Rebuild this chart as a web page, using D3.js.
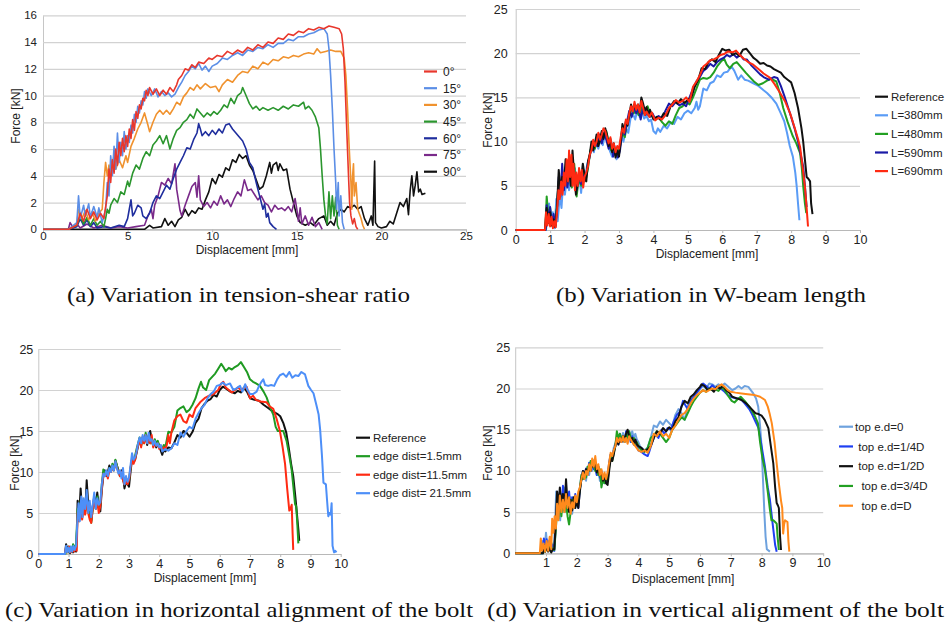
<!DOCTYPE html>
<html><head><meta charset="utf-8">
<script src="https://cdn.jsdelivr.net/npm/d3@7"></script>
<style>body{margin:0;background:#fff}</style>
</head><body>
<svg id="chart" width="949" height="628"></svg>
<script>
// ---------- DATA: [displacement mm, force kN] ----------
// (a) tension-shear ratio
const aLabels = ["0°","15°","30°","45°","60°","75°","90°"];
const a0 = [[0,0],[1.5,0],[2.0,0.3],[2.2,1.2],[2.4,0.6],[2.6,1.5],[2.8,0.8],[3.0,1.3],[3.2,0.7],[3.4,1.2],[3.6,0.8],[3.8,2.5],[3.9,4.5],[4.0,3.5],[4.1,5.2],[4.2,4.2],[4.3,6.0],[4.4,4.8],[4.5,6.5],[4.6,5.5],[4.7,6.8],[4.8,5.8],[4.9,7.0],[5.0,6.2],[5.1,7.5],[5.2,6.8],[5.3,8.2],[5.4,7.4],[5.5,8.8],[5.6,8.3],[5.7,9.3],[5.8,9.0],[5.9,9.8],[6.0,9.6],[6.1,10.4],[6.2,10.0],[6.3,10.6],[6.5,10.1],[6.7,10.5],[6.9,10.0],[7.1,10.4],[7.3,10.1],[7.5,10.6],[7.7,10.3],[7.9,10.8],[8.0,11.2],[8.2,11.5],[8.4,12.0],[8.6,11.9],[8.8,12.3],[9.0,12.1],[9.2,12.5],[9.5,12.4],[9.8,12.8],[10.0,12.7],[10.3,13.0],[10.6,12.9],[10.9,13.3],[11.2,13.1],[11.5,13.4],[11.8,13.2],[12.1,13.6],[12.4,13.4],[12.7,13.8],[13.0,13.6],[13.3,14.0],[13.6,13.9],[13.9,14.3],[14.2,14.2],[14.5,14.6],[14.8,14.5],[15.1,14.8],[15.4,14.7],[15.7,15.0],[16.0,14.9],[16.3,15.1],[16.6,15.0],[16.9,15.2],[17.2,15.1],[17.5,15.0],[17.65,14.6],[17.75,13.5],[17.85,11],[17.95,7.5],[18.05,4.2],[18.12,2.0],[18.2,1.0],[18.3,0.4],[18.4,0.8],[18.5,0.2],[18.6,0]];
const a15 = [[0,0],[1.5,0],[2.0,0.5],[2.1,2.5],[2.2,0.8],[2.4,1.8],[2.5,1.0],[2.7,1.9],[2.8,0.9],[3.0,1.7],[3.2,0.9],[3.3,1.6],[3.5,0.5],[3.7,1.5],[3.8,3.5],[3.9,2.5],[4.0,5.5],[4.1,4.0],[4.2,6.2],[4.3,4.5],[4.4,7.2],[4.5,5.0],[4.6,6.5],[4.7,5.5],[4.8,7.3],[4.9,6.0],[5.0,7.0],[5.1,6.5],[5.2,7.8],[5.3,7.2],[5.4,8.6],[5.5,8.0],[5.6,9.2],[5.7,8.7],[5.8,9.6],[5.9,9.3],[6.0,10.3],[6.1,9.8],[6.2,10.5],[6.4,10.0],[6.6,10.5],[6.8,9.9],[7.0,10.3],[7.2,10.0],[7.4,10.2],[7.6,9.9],[7.8,10.1],[8.0,10.6],[8.2,11.0],[8.4,11.5],[8.6,11.8],[8.8,12.2],[9.0,12.0],[9.2,12.4],[9.4,11.9],[9.6,12.2],[9.8,11.8],[10.0,12.2],[10.3,12.4],[10.6,12.8],[10.9,12.7],[11.2,13.0],[11.5,13.2],[11.8,13.0],[12.1,13.4],[12.4,13.3],[12.7,13.6],[13.0,13.5],[13.3,13.8],[13.6,13.6],[13.9,13.9],[14.2,13.9],[14.5,14.2],[14.8,14.1],[15.1,14.4],[15.4,14.4],[15.7,14.6],[16.0,14.7],[16.3,14.9],[16.6,15.0],[16.8,14.6],[16.9,13.5],[17.0,11.5],[17.1,9],[17.2,6],[17.3,3.5],[17.35,1.5],[17.45,3.5],[17.5,1.0],[17.6,2.5],[17.7,0.5],[17.8,0]];
const a30 = [[0,0],[1.5,0],[2.0,0.4],[2.1,1.5],[2.3,0.8],[2.5,1.4],[2.7,0.7],[2.9,1.3],[3.1,0.6],[3.3,1.2],[3.5,1.5],[3.6,3.5],[3.7,5.0],[3.8,4.0],[3.9,4.8],[4.0,4.2],[4.2,5.5],[4.3,4.5],[4.5,5.2],[4.7,4.6],[4.9,5.5],[5.0,5.0],[5.2,6.2],[5.4,6.8],[5.6,7.5],[5.8,8.0],[6.0,8.7],[6.2,7.8],[6.3,7.3],[6.5,8.0],[6.7,8.6],[6.9,8.9],[7.1,8.6],[7.3,8.9],[7.5,8.6],[7.7,9.0],[7.9,9.5],[8.1,9.3],[8.3,9.9],[8.5,10.2],[8.7,10.6],[8.9,10.4],[9.1,10.8],[9.3,10.5],[9.6,10.9],[9.9,10.6],[10.2,10.7],[10.4,10.3],[10.6,10.8],[10.9,11.2],[11.2,11.0],[11.5,11.5],[11.8,11.8],[12.1,11.7],[12.4,12.2],[12.7,12.0],[13.0,12.5],[13.3,12.3],[13.6,12.7],[13.9,12.6],[14.2,12.9],[14.5,12.8],[14.8,13.0],[15.1,12.9],[15.4,13.1],[15.7,13.2],[16.0,13.1],[16.2,13.5],[16.4,13.2],[16.7,13.3],[17.0,13.4],[17.3,13.3],[17.6,13.3],[17.8,12.8],[17.9,11.5],[18.0,9.0],[18.1,6.0],[18.2,3.5],[18.25,1.5],[18.3,4.0],[18.35,4.9],[18.4,2.5],[18.5,3.5],[18.6,1.5],[18.8,0.8],[18.9,0.3],[19.0,0]];
const a45 = [[0,0],[1.5,0],[2.0,0.3],[2.2,1.0],[2.4,0.4],[2.6,0.9],[2.8,0.3],[3.0,0.8],[3.2,0.3],[3.4,0.6],[3.6,0.2],[3.7,0.8],[3.8,1.5],[3.9,1.2],[4.0,1.8],[4.2,2.3],[4.4,2.0],[4.6,2.8],[4.8,2.6],[5.0,3.6],[5.1,3.2],[5.3,4.2],[5.5,4.8],[5.7,4.5],[5.9,5.3],[6.1,5.8],[6.3,5.5],[6.5,6.3],[6.7,6.6],[6.9,7.0],[7.1,6.4],[7.3,7.0],[7.5,6.0],[7.7,6.8],[7.9,7.4],[8.1,7.6],[8.3,8.0],[8.5,8.2],[8.7,8.6],[8.9,8.3],[9.1,9.0],[9.3,8.7],[9.5,8.4],[9.7,8.7],[9.9,8.5],[10.1,8.8],[10.3,8.6],[10.5,8.9],[10.7,9.3],[10.9,9.1],[11.1,9.8],[11.3,9.4],[11.5,10.0],[11.7,10.2],[11.8,10.6],[12.0,10.0],[12.2,9.4],[12.4,9.0],[12.6,9.2],[12.8,8.9],[13.0,9.1],[13.3,8.9],[13.6,9.1],[13.9,8.9],[14.2,9.2],[14.5,9.0],[14.8,9.3],[15.1,9.2],[15.4,9.5],[15.5,9.0],[15.7,9.2],[15.9,8.9],[16.1,8.4],[16.3,7.6],[16.4,6.0],[16.5,4.0],[16.6,2.2],[16.7,1.0],[16.8,0.4],[16.9,2.8],[17.0,0.8],[17.1,2.5],[17.2,1.0],[17.3,2.4],[17.4,0.3],[17.5,0]];
const a60 = [[0,0],[1.5,0],[2.0,0.2],[2.2,0.8],[2.4,0.3],[2.6,0.7],[2.8,0.2],[3.0,0.5],[3.2,0.1],[3.6,0.2],[4.0,0.1],[4.5,0.3],[4.8,0.2],[5.0,0.8],[5.1,1.5],[5.2,2.2],[5.3,1.0],[5.4,1.2],[5.5,1.5],[5.6,1.8],[5.8,1.6],[5.9,1.0],[6.1,0.8],[6.3,1.2],[6.5,2.0],[6.7,2.5],[6.9,2.3],[7.1,2.8],[7.3,3.3],[7.5,3.0],[7.7,3.8],[7.9,4.5],[8.1,5.0],[8.3,5.5],[8.5,6.1],[8.7,6.0],[8.9,6.7],[9.1,7.2],[9.2,7.9],[9.3,7.5],[9.4,7.0],[9.6,7.3],[9.8,7.0],[10.0,7.4],[10.2,7.1],[10.4,7.5],[10.6,7.2],[10.8,7.8],[11.0,7.9],[11.2,7.5],[11.4,7.2],[11.6,6.9],[11.8,6.6],[12.0,6.0],[12.2,5.0],[12.4,4.6],[12.6,3.5],[12.8,2.5],[12.9,2.0],[13.0,1.5],[13.1,1.9],[13.2,0.9],[13.3,1.2],[13.4,0.5],[13.6,0.2],[13.8,0]];
const a75 = [[0,0],[1.5,0],[1.6,0.5],[1.8,0.1],[2.0,0.4],[2.2,0.1],[2.6,0.4],[3.0,0.1],[3.5,0.3],[4.0,0.1],[4.5,0.2],[5.0,0.1],[5.5,0.2],[6.0,0.3],[6.2,1.0],[6.4,1.5],[6.5,0.8],[6.6,1.8],[6.8,2.5],[7.0,3.5],[7.2,3.3],[7.4,3.8],[7.6,3.4],[7.8,4.9],[7.9,3.0],[8.0,2.2],[8.1,1.4],[8.2,1.0],[8.4,1.8],[8.6,2.5],[8.8,3.2],[9.0,3.5],[9.1,2.4],[9.2,4.0],[9.3,2.2],[9.5,1.7],[9.7,2.0],[9.9,1.6],[10.1,2.1],[10.3,1.8],[10.5,2.5],[10.7,1.9],[10.9,2.2],[11.1,1.7],[11.3,2.3],[11.5,2.8],[11.7,2.5],[11.9,3.7],[12.1,2.9],[12.3,3.0],[12.5,2.6],[12.7,2.2],[12.9,2.5],[13.1,2.0],[13.3,1.8],[13.5,1.3],[13.7,1.8],[13.9,1.5],[14.1,1.6],[14.3,1.4],[14.5,1.7],[14.7,1.3],[14.9,2.3],[15.0,1.5],[15.1,0.6],[15.2,1.6],[15.3,0.4],[15.5,1.0],[15.7,0.3],[15.9,0.9],[16.1,0.2],[16.3,0.5],[16.5,0]];
const a90 = [[0,0],[6.0,0],[6.3,0.3],[6.5,0.1],[7.0,0.2],[7.2,0.8],[7.4,0.3],[7.6,0.6],[7.8,0.2],[8.0,0.7],[8.2,0.9],[8.4,1.5],[8.6,1.0],[8.8,1.4],[9.0,1.2],[9.2,1.6],[9.4,1.5],[9.6,2.2],[9.8,2.8],[10.0,3.8],[10.2,3.4],[10.4,4.1],[10.6,3.9],[10.8,4.6],[11.0,4.4],[11.2,5.2],[11.4,5.0],[11.6,5.6],[11.8,5.3],[12.0,5.5],[12.2,4.8],[12.4,4.4],[12.6,3.7],[12.8,3.0],[13.0,3.2],[13.2,4.0],[13.4,5.0],[13.5,4.2],[13.6,4.8],[13.8,5.0],[13.9,4.4],[14.0,4.9],[14.2,4.4],[14.4,4.5],[14.6,3.0],[14.8,2.0],[15.0,1.0],[15.2,0.5],[15.5,0.3],[15.8,0.5],[16.0,0.3],[16.3,0.8],[16.6,1.0],[16.8,0.3],[17.0,0.6],[17.2,0.3],[17.4,1.2],[17.6,1.5],[17.8,1.3],[18.0,1.7],[18.2,1.6],[18.4,1.8],[18.6,1.5],[18.8,1.7],[19.0,0.8],[19.2,0.3],[19.4,1.0],[19.5,0.3],[19.6,5.1],[19.65,0.5],[19.8,0.2],[20.0,0.1],[20.3,0.2],[20.5,0.6],[20.7,0.4],[20.9,1.2],[21.1,2.0],[21.3,1.7],[21.5,2.3],[21.6,1.1],[21.7,2.9],[21.8,4.0],[21.9,2.5],[22.0,3.3],[22.1,4.3],[22.2,2.8],[22.3,3.0],[22.4,2.6],[22.6,2.7]];

// (b) W-beam length
const bLabels = ["Reference","L=380mm","L=480mm","L=590mm","L=690mm"];
const bRef = [[0,0],[0.85,0],[0.9,2.5],[0.95,0.8],[1.0,2.0],[1.05,0.5],[1.1,1.2],[1.15,0.3],[1.2,2.5],[1.25,6.8],[1.3,4.5],[1.35,6.0],[1.4,5.2],[1.45,8.0],[1.5,5.5],[1.55,7.0],[1.6,5.0],[1.65,9.0],[1.7,6.0],[1.75,4.0],[1.8,5.5],[1.85,6.5],[1.9,5.8],[1.95,7.5],[2.0,6.2],[2.05,5.5],[2.1,7.8],[2.15,8.5],[2.2,10.0],[2.25,9.0],[2.3,9.8],[2.35,10.8],[2.4,9.5],[2.45,10.2],[2.5,11.2],[2.55,10.3],[2.6,11.5],[2.65,10.8],[2.7,9.5],[2.75,10.3],[2.8,8.8],[2.85,9.8],[2.9,8.2],[2.95,9.0],[3.0,8.3],[3.05,10.0],[3.1,12.0],[3.15,11.3],[3.2,12.3],[3.25,11.8],[3.3,13.0],[3.35,14.2],[3.4,13.5],[3.45,14.0],[3.5,13.8],[3.55,14.2],[3.6,13.3],[3.65,15.0],[3.7,14.3],[3.75,13.5],[3.8,13.9],[3.85,13.0],[3.9,13.6],[4.0,12.5],[4.1,12.8],[4.2,12.5],[4.3,13.2],[4.4,12.9],[4.5,14.0],[4.6,14.6],[4.7,14.3],[4.8,14.8],[4.9,14.4],[5.0,14.7],[5.1,15.0],[5.2,16.2],[5.3,17.0],[5.4,18.3],[5.5,18.2],[5.6,19.0],[5.7,19.3],[5.8,19.0],[5.9,19.8],[6.0,20.5],[6.1,20.3],[6.2,20.4],[6.3,19.8],[6.4,20.0],[6.5,19.7],[6.6,20.4],[6.7,20.5],[6.8,20.0],[6.9,19.5],[7.0,19.2],[7.1,18.8],[7.2,18.9],[7.3,18.6],[7.4,18.5],[7.5,18.2],[7.6,18.0],[7.7,17.8],[7.8,17.3],[7.9,17.0],[8.0,16.7],[8.1,15.5],[8.2,13.8],[8.3,11.5],[8.35,10.0],[8.4,8.0],[8.45,6.0],[8.5,5.8],[8.55,5.5],[8.58,3.0],[8.62,1.8]];
const b380 = [[0,0],[0.88,0],[0.92,1.5],[0.97,3.0],[1.02,0.5],[1.08,2.0],[1.13,0.2],[1.18,3.5],[1.22,1.0],[1.28,4.0],[1.33,2.5],[1.38,5.5],[1.43,4.0],[1.5,6.5],[1.55,4.5],[1.6,6.2],[1.65,5.0],[1.72,7.0],[1.78,4.5],[1.85,6.0],[1.9,4.2],[1.95,6.5],[2.0,5.5],[2.08,7.5],[2.15,8.2],[2.2,9.5],[2.27,8.8],[2.33,10.0],[2.4,9.2],[2.47,10.5],[2.53,9.6],[2.6,11.0],[2.67,10.0],[2.73,9.0],[2.8,8.3],[2.87,9.5],[2.93,8.0],[3.0,8.8],[3.07,10.5],[3.13,10.0],[3.2,11.5],[3.27,11.0],[3.33,12.5],[3.4,13.2],[3.47,12.5],[3.53,13.5],[3.6,12.8],[3.67,13.8],[3.73,12.6],[3.8,12.9],[3.87,12.3],[3.93,12.5],[4.0,11.2],[4.07,10.9],[4.13,11.5],[4.2,11.1],[4.3,11.8],[4.4,11.5],[4.5,12.2],[4.6,12.0],[4.7,12.8],[4.8,12.5],[4.9,13.2],[5.0,13.5],[5.1,13.2],[5.2,13.8],[5.25,14.5],[5.3,13.6],[5.35,14.0],[5.45,16.0],[5.55,15.8],[5.65,16.6],[5.75,16.8],[5.85,17.5],[5.95,17.3],[6.05,17.8],[6.15,17.9],[6.27,18.5],[6.35,18.0],[6.46,17.0],[6.55,17.5],[6.65,17.0],[6.75,16.9],[6.9,16.6],[7.05,16.3],[7.2,15.8],[7.3,15.5],[7.45,14.9],[7.57,14.3],[7.7,13.2],[7.8,12.3],[7.88,11.0],[7.96,9.5],[8.05,8.3],[8.12,6.5],[8.16,5.0],[8.2,3.0],[8.24,1.1]];
const b480 = [[0,0],[0.86,0],[0.9,3.8],[0.95,1.5],[1.0,2.5],[1.05,0.8],[1.1,1.5],[1.15,0.5],[1.2,3.0],[1.25,5.5],[1.3,4.2],[1.35,6.5],[1.4,4.8],[1.45,7.0],[1.5,5.2],[1.57,6.5],[1.63,4.8],[1.7,7.5],[1.77,3.8],[1.83,5.8],[1.9,5.0],[1.97,6.8],[2.03,5.6],[2.1,7.0],[2.17,9.0],[2.23,9.8],[2.3,9.2],[2.37,10.2],[2.43,9.8],[2.5,11.0],[2.57,10.5],[2.63,11.2],[2.7,10.0],[2.77,9.0],[2.83,9.5],[2.9,8.5],[2.97,9.0],[3.03,9.5],[3.1,11.0],[3.17,10.5],[3.23,12.0],[3.3,12.8],[3.37,13.8],[3.43,13.2],[3.5,13.8],[3.57,13.0],[3.63,14.0],[3.7,13.2],[3.77,13.5],[3.83,14.0],[3.9,13.2],[3.97,12.8],[4.05,12.5],[4.15,12.8],[4.25,12.2],[4.35,11.8],[4.45,12.3],[4.55,12.0],[4.65,13.0],[4.75,13.8],[4.85,14.0],[4.95,14.5],[5.05,14.2],[5.15,15.0],[5.25,16.0],[5.35,17.0],[5.45,17.2],[5.55,17.1],[5.65,17.3],[5.75,17.8],[5.85,18.5],[5.95,19.0],[6.05,19.4],[6.13,18.7],[6.22,18.3],[6.32,18.8],[6.42,19.0],[6.55,18.4],[6.68,17.8],[6.8,17.3],[6.92,16.8],[7.05,16.4],[7.18,16.6],[7.3,16.9],[7.42,17.1],[7.57,16.8],[7.67,15.5],[7.77,13.8],[7.9,12.2],[8.05,10.6],[8.15,9.8],[8.26,8.7],[8.31,7.0],[8.35,5.0],[8.4,3.0],[8.44,1.9]];
const b590 = [[0,0],[0.87,0],[0.9,2.8],[0.95,1.2],[1.0,2.6],[1.05,0.6],[1.1,1.8],[1.15,0.4],[1.2,2.5],[1.25,6.0],[1.3,3.8],[1.35,7.5],[1.4,4.5],[1.45,6.2],[1.5,4.8],[1.57,7.2],[1.63,5.5],[1.7,6.5],[1.77,4.5],[1.83,6.0],[1.9,5.2],[1.97,6.2],[2.03,5.8],[2.1,7.5],[2.17,8.8],[2.23,9.5],[2.3,10.0],[2.37,9.5],[2.43,10.8],[2.5,9.8],[2.57,11.0],[2.63,10.2],[2.7,9.2],[2.77,10.0],[2.83,8.3],[2.9,9.0],[2.97,8.2],[3.03,9.0],[3.1,11.5],[3.17,10.8],[3.23,12.2],[3.3,13.5],[3.37,12.8],[3.43,14.0],[3.5,13.2],[3.57,13.8],[3.63,12.5],[3.7,13.8],[3.77,13.0],[3.83,13.5],[3.9,12.8],[3.97,13.2],[4.05,12.6],[4.15,12.9],[4.25,12.6],[4.35,13.5],[4.45,14.3],[4.55,14.0],[4.65,14.5],[4.75,14.1],[4.85,14.3],[4.95,14.0],[5.05,15.0],[5.15,16.0],[5.25,16.8],[5.35,17.3],[5.45,18.0],[5.55,18.3],[5.65,18.8],[5.75,18.5],[5.85,19.0],[5.95,19.3],[6.05,19.5],[6.13,19.8],[6.22,19.6],[6.32,19.9],[6.42,19.5],[6.52,19.8],[6.62,19.3],[6.71,19.3],[6.85,18.6],[7.0,18.0],[7.1,17.6],[7.2,17.3],[7.35,17.0],[7.5,17.3],[7.6,17.2],[7.7,16.3],[7.8,15.2],[7.9,14.0],[8.0,12.8],[8.1,11.5],[8.2,10.0],[8.28,8.5],[8.35,7.2],[8.4,5.0],[8.45,2.6]];
const b690 = [[0,0],[0.85,0],[0.88,2.0],[0.92,0.5],[0.96,1.8],[1.0,0.4],[1.04,1.5],[1.08,0.2],[1.12,1.0],[1.16,0.3],[1.2,2.0],[1.24,4.5],[1.28,3.5],[1.32,5.5],[1.36,4.0],[1.4,6.5],[1.44,5.0],[1.48,8.0],[1.52,5.5],[1.55,9.0],[1.58,6.0],[1.62,8.5],[1.65,5.0],[1.68,7.5],[1.72,4.5],[1.76,6.5],[1.8,5.0],[1.84,7.0],[1.88,5.5],[1.92,6.8],[1.96,4.8],[2.0,6.0],[2.05,6.5],[2.1,7.2],[2.15,8.5],[2.2,9.0],[2.25,10.2],[2.3,9.5],[2.35,10.0],[2.4,11.0],[2.45,10.2],[2.5,10.8],[2.55,11.5],[2.6,11.2],[2.65,10.5],[2.7,9.8],[2.75,10.5],[2.8,9.2],[2.85,9.8],[2.9,8.8],[2.95,9.5],[3.0,9.2],[3.05,10.5],[3.1,11.5],[3.15,11.0],[3.2,12.5],[3.25,12.0],[3.3,13.2],[3.35,14.0],[3.4,13.4],[3.45,14.5],[3.5,13.6],[3.55,14.2],[3.6,13.3],[3.65,14.6],[3.7,13.8],[3.75,13.0],[3.8,13.4],[3.88,12.8],[3.95,13.3],[4.05,12.4],[4.15,12.7],[4.25,12.5],[4.35,13.0],[4.45,13.8],[4.55,14.2],[4.65,14.7],[4.75,14.4],[4.85,14.6],[4.95,15.0],[5.05,14.5],[5.15,16.2],[5.25,16.8],[5.35,17.5],[5.45,18.5],[5.55,18.8],[5.65,19.2],[5.75,19.3],[5.85,19.5],[5.95,19.8],[6.05,19.9],[6.17,20.2],[6.3,20.1],[6.4,20.3],[6.51,19.8],[6.62,19.4],[6.75,19.0],[6.9,18.7],[7.05,18.2],[7.2,17.7],[7.39,17.2],[7.52,16.5],[7.68,15.5],[7.83,14.5],[7.97,13.2],[8.1,11.6],[8.2,10.3],[8.26,9.4],[8.33,7.2],[8.4,4.9],[8.45,2.5],[8.49,0.4]];

// (c) horizontal alignment
const cLabels = ["Reference","edge dist=1.5mm","edge dist=11.5mm","edge dist= 21.5mm"];
const cRef = [[0,0],[0.88,0],[0.92,1.2],[0.96,0.3],[1.0,0.9],[1.05,0.1],[1.1,0.6],[1.15,0.2],[1.2,0.4],[1.25,0.3],[1.28,3.0],[1.3,6.5],[1.35,4.5],[1.4,8.0],[1.45,5.0],[1.5,6.5],[1.55,5.0],[1.6,9.0],[1.65,6.2],[1.7,5.5],[1.75,4.0],[1.8,5.8],[1.85,7.0],[1.9,6.0],[1.95,7.5],[2.0,5.8],[2.05,5.2],[2.1,7.8],[2.15,9.5],[2.2,10.2],[2.25,9.5],[2.3,10.0],[2.35,10.8],[2.4,10.2],[2.45,10.5],[2.5,10.2],[2.55,11.4],[2.6,10.8],[2.65,10.2],[2.7,9.8],[2.75,10.2],[2.8,9.5],[2.85,8.0],[2.9,8.8],[2.95,8.5],[3.0,8.2],[3.05,10.0],[3.1,11.6],[3.15,11.2],[3.2,11.5],[3.25,12.3],[3.3,13.2],[3.35,14.0],[3.4,13.5],[3.45,14.2],[3.5,13.8],[3.55,14.5],[3.6,13.3],[3.65,14.2],[3.7,15.0],[3.75,14.0],[3.8,13.2],[3.85,13.6],[3.9,13.0],[3.95,13.5],[4.0,13.3],[4.05,12.6],[4.1,12.1],[4.15,12.8],[4.2,12.5],[4.3,13.0],[4.4,12.9],[4.5,13.6],[4.6,14.5],[4.7,14.2],[4.8,15.0],[4.9,14.8],[5.0,14.3],[5.1,14.9],[5.2,16.0],[5.3,16.5],[5.4,17.8],[5.5,18.3],[5.6,18.7],[5.7,18.9],[5.8,19.4],[5.9,19.2],[6.0,20.0],[6.1,20.4],[6.2,20.2],[6.35,19.8],[6.5,19.6],[6.6,19.9],[6.7,19.7],[6.8,20.3],[6.9,19.8],[7.0,19.0],[7.15,18.8],[7.3,18.7],[7.45,18.2],[7.6,17.8],[7.75,17.4],[7.9,17.1],[8.0,16.8],[8.1,16.0],[8.2,14.8],[8.28,13.0],[8.36,11.0],[8.43,9.5],[8.5,7.0],[8.55,5.0],[8.6,3.0],[8.63,1.6]];
const c15 = [[0,0],[0.9,0],[0.95,0.8],[1.0,0.2],[1.05,0.9],[1.1,0.3],[1.15,1.2],[1.2,0.6],[1.25,1.2],[1.3,5.5],[1.35,4.0],[1.4,6.5],[1.45,4.5],[1.5,6.0],[1.55,5.2],[1.6,7.0],[1.65,5.5],[1.7,4.5],[1.75,3.8],[1.8,5.5],[1.85,6.5],[1.9,5.5],[1.95,7.0],[2.0,5.5],[2.05,6.0],[2.1,8.5],[2.15,10.3],[2.2,9.8],[2.25,10.0],[2.3,9.5],[2.35,10.5],[2.4,10.0],[2.45,11.0],[2.5,10.5],[2.55,11.5],[2.6,10.8],[2.65,10.0],[2.7,9.5],[2.75,10.0],[2.8,9.2],[2.85,8.5],[2.9,9.2],[2.95,8.8],[3.0,9.0],[3.05,10.5],[3.1,11.5],[3.15,11.2],[3.2,12.0],[3.25,12.8],[3.3,13.5],[3.35,14.2],[3.4,13.2],[3.45,14.0],[3.5,13.5],[3.55,14.8],[3.6,13.8],[3.65,14.5],[3.7,13.5],[3.75,14.0],[3.8,13.2],[3.85,14.0],[3.9,13.5],[3.95,13.8],[4.0,13.2],[4.05,13.0],[4.1,12.8],[4.15,13.3],[4.2,13.0],[4.3,14.9],[4.4,14.8],[4.5,15.5],[4.6,17.5],[4.7,17.8],[4.8,18.0],[4.9,17.3],[5.0,17.6],[5.1,18.2],[5.2,19.0],[5.3,20.2],[5.38,21.0],[5.45,20.3],[5.55,20.0],[5.65,21.2],[5.75,21.6],[5.85,22.0],[5.95,22.6],[6.05,23.2],[6.12,22.8],[6.2,22.3],[6.3,22.7],[6.4,22.5],[6.5,22.8],[6.6,23.0],[6.7,23.4],[6.8,22.8],[6.9,22.2],[7.0,21.3],[7.1,21.0],[7.2,20.8],[7.33,20.5],[7.45,19.8],[7.55,19.1],[7.65,18.0],[7.77,17.0],[7.85,15.5],[7.92,15.0],[8.0,15.0],[8.1,15.0],[8.21,13.8],[8.3,12.0],[8.38,10.2],[8.44,8.0],[8.49,6.1],[8.53,5.8],[8.56,4.0],[8.6,1.3]];
const c115 = [[0,0],[0.88,0],[0.92,0.8],[0.97,0.2],[1.02,0.9],[1.07,0.2],[1.12,0.7],[1.17,0.3],[1.22,0.5],[1.27,0.4],[1.3,5.0],[1.35,4.0],[1.4,6.0],[1.45,4.2],[1.5,5.5],[1.55,4.8],[1.6,6.8],[1.65,5.0],[1.7,4.2],[1.75,3.8],[1.8,5.5],[1.85,6.5],[1.9,5.5],[1.95,6.5],[2.0,5.0],[2.05,5.8],[2.1,8.0],[2.15,9.8],[2.2,9.5],[2.25,10.0],[2.3,9.2],[2.35,10.2],[2.4,10.0],[2.45,10.5],[2.5,10.3],[2.55,11.2],[2.6,10.5],[2.65,10.0],[2.7,9.5],[2.75,10.0],[2.8,9.0],[2.85,8.5],[2.9,9.0],[2.95,8.5],[3.0,9.0],[3.05,10.5],[3.1,11.5],[3.15,11.0],[3.2,11.5],[3.25,12.5],[3.3,13.3],[3.35,14.0],[3.4,13.0],[3.45,14.3],[3.5,13.5],[3.55,14.5],[3.6,13.5],[3.65,14.3],[3.7,13.5],[3.75,14.5],[3.8,13.0],[3.85,13.5],[3.9,13.2],[3.95,13.5],[4.0,12.8],[4.05,13.2],[4.1,12.6],[4.15,13.0],[4.2,12.8],[4.25,13.3],[4.3,14.5],[4.35,13.5],[4.4,14.8],[4.5,16.3],[4.6,16.8],[4.7,17.0],[4.8,16.2],[4.9,16.0],[5.0,17.0],[5.1,16.7],[5.2,17.8],[5.35,18.5],[5.5,19.0],[5.65,19.3],[5.8,19.5],[5.95,20.0],[6.05,20.8],[6.12,21.0],[6.2,20.3],[6.3,20.0],[6.4,19.7],[6.5,20.0],[6.6,20.3],[6.7,20.0],[6.8,20.2],[6.89,20.4],[7.0,19.0],[7.1,19.3],[7.2,18.8],[7.35,18.6],[7.55,18.5],[7.65,18.0],[7.77,17.7],[7.88,16.5],[7.99,15.0],[8.08,13.0],[8.16,11.0],[8.23,8.0],[8.3,5.3],[8.34,5.5],[8.38,6.0],[8.41,2.5],[8.43,0.5]];
const c215 = [[0,0],[0.88,0],[0.92,1.0],[0.96,0.2],[1.0,0.8],[1.04,0.2],[1.08,0.9],[1.12,0.3],[1.16,1.0],[1.2,0.5],[1.25,1.0],[1.3,4.5],[1.33,6.2],[1.37,4.0],[1.42,7.0],[1.46,4.5],[1.5,6.8],[1.55,5.5],[1.6,7.8],[1.65,5.0],[1.7,6.5],[1.75,4.5],[1.8,6.0],[1.85,7.5],[1.9,5.5],[1.95,6.8],[2.0,6.0],[2.05,6.3],[2.1,8.5],[2.15,9.8],[2.2,9.5],[2.25,10.2],[2.3,9.5],[2.35,10.5],[2.4,10.0],[2.45,10.8],[2.5,10.2],[2.55,11.3],[2.6,10.5],[2.65,9.8],[2.7,10.2],[2.75,9.2],[2.8,10.5],[2.85,8.5],[2.9,9.5],[2.95,8.8],[3.0,9.3],[3.05,10.8],[3.1,12.3],[3.15,11.5],[3.2,11.8],[3.25,12.5],[3.3,13.5],[3.35,14.2],[3.4,13.5],[3.45,14.5],[3.5,13.8],[3.55,14.5],[3.6,13.5],[3.65,14.8],[3.7,13.8],[3.75,14.0],[3.8,13.3],[3.85,13.8],[3.9,13.2],[3.95,13.5],[4.0,13.0],[4.05,13.3],[4.1,12.5],[4.2,12.8],[4.3,12.6],[4.4,12.9],[4.5,13.5],[4.6,13.3],[4.7,14.8],[4.8,14.3],[4.9,15.0],[5.0,15.5],[5.1,15.3],[5.2,16.5],[5.3,17.2],[5.4,17.8],[5.5,18.2],[5.6,19.0],[5.7,19.5],[5.8,19.8],[5.9,20.5],[6.0,20.6],[6.1,20.9],[6.2,20.6],[6.34,20.8],[6.45,20.0],[6.55,20.2],[6.67,20.5],[6.75,19.8],[6.84,20.7],[6.92,20.0],[7.0,19.5],[7.1,19.5],[7.22,19.8],[7.3,20.5],[7.38,21.0],[7.44,21.3],[7.5,20.6],[7.6,20.5],[7.7,20.6],[7.8,20.5],[7.9,21.3],[7.99,21.8],[8.1,22.0],[8.2,21.6],[8.3,22.2],[8.4,21.5],[8.5,21.8],[8.6,21.7],[8.7,22.2],[8.82,21.9],[8.93,20.5],[9.02,20.0],[9.1,19.6],[9.2,18.1],[9.27,17.0],[9.32,15.2],[9.38,12.0],[9.43,8.7],[9.51,8.5],[9.55,6.5],[9.59,4.6],[9.63,5.0],[9.67,4.8],[9.7,6.2],[9.73,1.0],[9.78,0.2],[9.82,0.4],[9.86,0.2]];

// (d) vertical alignment
const dLabels = ["top e.d=0"," top e.d=1/4D"," top e.d=1/2D","  top e.d=3/4D","  top e.d=D"];
const d0 = [[0,0],[0.88,0],[0.9,1.5],[0.95,0.3],[1.0,2.5],[1.05,0.5],[1.1,1.5],[1.15,0.2],[1.2,1.2],[1.25,0.3],[1.3,4.0],[1.33,7.5],[1.37,4.5],[1.42,6.5],[1.46,4.0],[1.5,7.2],[1.55,5.5],[1.6,8.0],[1.65,5.0],[1.7,6.5],[1.75,5.5],[1.8,6.8],[1.85,4.8],[1.9,6.5],[1.95,5.5],[2.0,6.8],[2.05,6.2],[2.1,8.0],[2.15,9.5],[2.2,9.0],[2.25,9.5],[2.3,8.8],[2.35,10.5],[2.4,9.5],[2.45,10.8],[2.5,10.0],[2.55,11.3],[2.6,10.3],[2.65,9.5],[2.7,10.3],[2.75,8.8],[2.8,9.8],[2.85,8.5],[2.9,9.5],[2.95,8.8],[3.0,9.5],[3.05,10.8],[3.1,12.0],[3.15,11.5],[3.2,12.8],[3.25,13.3],[3.3,14.0],[3.35,13.5],[3.4,14.3],[3.45,13.8],[3.5,14.6],[3.55,13.8],[3.6,14.2],[3.65,13.5],[3.7,14.8],[3.75,14.2],[3.8,14.8],[3.85,14.0],[3.9,14.5],[3.95,13.8],[4.0,13.5],[4.05,13.0],[4.1,12.8],[4.2,12.5],[4.3,12.8],[4.4,14.0],[4.5,15.5],[4.6,15.3],[4.7,16.0],[4.8,15.6],[4.9,16.2],[5.0,15.8],[5.1,15.4],[5.2,16.8],[5.3,17.5],[5.4,17.0],[5.5,16.2],[5.6,17.8],[5.7,18.8],[5.8,19.3],[5.9,19.8],[6.0,20.0],[6.1,20.3],[6.2,20.0],[6.3,20.6],[6.4,20.5],[6.5,20.2],[6.6,20.5],[6.7,20.3],[6.8,20.6],[6.92,20.2],[7.05,19.8],[7.15,20.0],[7.25,20.3],[7.35,20.0],[7.45,20.3],[7.57,20.2],[7.65,19.8],[7.73,19.4],[7.82,18.8],[7.89,17.8],[7.95,15.5],[8.0,12.9],[8.05,8.5],[8.09,4.9],[8.13,2.0],[8.17,0.5],[8.27,0.2]];
const d14 = [[0,0],[0.9,0],[0.93,1.8],[0.97,0.5],[1.02,1.7],[1.07,0.3],[1.12,1.6],[1.17,0.4],[1.22,1.0],[1.27,0.3],[1.32,3.5],[1.36,6.0],[1.4,4.5],[1.45,7.5],[1.5,5.0],[1.55,8.2],[1.6,5.2],[1.65,7.0],[1.7,5.5],[1.75,7.5],[1.8,5.0],[1.85,6.8],[1.9,5.5],[1.95,7.2],[2.0,6.0],[2.05,5.5],[2.1,7.8],[2.15,9.0],[2.2,10.0],[2.25,9.2],[2.3,10.3],[2.35,9.5],[2.4,11.0],[2.45,10.0],[2.5,11.2],[2.55,10.2],[2.6,10.8],[2.65,9.5],[2.7,10.5],[2.75,9.2],[2.8,10.0],[2.85,8.8],[2.9,9.5],[2.95,8.5],[3.0,9.0],[3.05,11.0],[3.1,12.0],[3.15,11.5],[3.2,12.5],[3.25,13.0],[3.3,14.0],[3.35,13.2],[3.4,14.5],[3.45,13.5],[3.5,14.0],[3.55,13.5],[3.6,14.8],[3.65,13.8],[3.7,14.5],[3.75,13.5],[3.8,14.2],[3.85,13.5],[3.9,13.8],[3.95,13.0],[4.0,12.5],[4.1,12.3],[4.2,12.0],[4.3,11.8],[4.35,12.3],[4.45,13.5],[4.55,14.5],[4.65,14.0],[4.75,15.0],[4.85,14.5],[4.95,15.2],[5.05,15.0],[5.15,16.0],[5.25,16.8],[5.35,17.2],[5.45,18.5],[5.52,18.0],[5.6,17.5],[5.7,18.5],[5.8,19.0],[5.9,19.5],[6.0,20.0],[6.1,20.6],[6.2,20.3],[6.3,20.0],[6.4,20.4],[6.5,20.0],[6.6,20.2],[6.7,19.9],[6.8,19.6],[6.9,19.2],[7.0,19.0],[7.15,18.8],[7.3,18.8],[7.45,18.2],[7.6,17.5],[7.7,16.8],[7.8,16.0],[7.9,15.2],[8.0,13.0],[8.11,10.5],[8.2,8.0],[8.27,6.5],[8.33,4.5],[8.38,2.9],[8.44,1.0],[8.49,0.2]];
const d12 = [[0,0],[0.9,0],[0.93,1.0],[0.97,0.2],[1.02,0.8],[1.07,0.2],[1.12,0.6],[1.17,0.1],[1.22,0.5],[1.27,0.5],[1.32,4.0],[1.36,7.5],[1.4,5.5],[1.45,8.0],[1.5,6.0],[1.55,7.2],[1.6,5.5],[1.65,9.0],[1.7,6.0],[1.75,5.0],[1.8,6.5],[1.85,5.2],[1.9,6.8],[1.95,5.5],[2.0,6.5],[2.05,5.5],[2.1,7.5],[2.15,9.0],[2.2,10.0],[2.25,9.5],[2.3,10.2],[2.35,9.8],[2.4,10.5],[2.45,10.0],[2.5,11.0],[2.55,10.5],[2.6,10.8],[2.65,9.8],[2.7,10.5],[2.75,9.5],[2.8,9.8],[2.85,8.8],[2.9,9.5],[2.95,8.5],[3.0,8.3],[3.05,10.0],[3.1,11.5],[3.15,11.2],[3.2,12.0],[3.25,13.0],[3.3,13.8],[3.35,13.2],[3.4,14.0],[3.45,13.5],[3.5,14.2],[3.55,13.8],[3.6,14.5],[3.65,15.0],[3.7,14.2],[3.75,13.8],[3.8,14.0],[3.85,13.2],[3.9,13.8],[3.95,13.2],[4.0,13.0],[4.1,12.8],[4.2,12.4],[4.3,12.6],[4.4,13.0],[4.5,14.0],[4.6,14.8],[4.7,14.5],[4.8,15.2],[4.9,14.8],[5.0,15.3],[5.1,15.0],[5.2,16.0],[5.3,16.5],[5.4,17.8],[5.5,18.5],[5.6,18.2],[5.7,19.0],[5.8,19.3],[5.9,19.8],[6.0,20.2],[6.05,20.5],[6.15,20.3],[6.25,19.8],[6.35,20.0],[6.45,19.6],[6.55,20.2],[6.65,20.0],[6.75,20.3],[6.85,19.8],[6.95,19.5],[7.05,19.0],[7.2,18.8],[7.35,18.6],[7.5,18.2],[7.6,17.8],[7.7,17.4],[7.8,17.0],[7.9,16.9],[8.0,16.7],[8.1,16.2],[8.22,15.2],[8.3,13.0],[8.38,10.9],[8.44,8.0],[8.49,6.1],[8.53,5.8],[8.56,5.5],[8.6,2.0],[8.63,0.4]];
const d34 = [[0,0],[0.9,0],[0.93,0.8],[0.97,0.2],[1.02,1.0],[1.07,0.3],[1.12,0.8],[1.17,0.2],[1.22,0.6],[1.27,0.4],[1.32,3.0],[1.36,5.5],[1.4,4.2],[1.45,6.5],[1.5,4.5],[1.55,7.0],[1.6,5.0],[1.65,6.2],[1.7,4.5],[1.75,3.5],[1.8,5.0],[1.85,6.5],[1.9,5.5],[1.95,6.8],[2.0,5.8],[2.05,6.5],[2.1,7.8],[2.15,9.5],[2.2,9.0],[2.25,9.8],[2.3,9.2],[2.35,10.5],[2.4,10.0],[2.45,11.2],[2.5,10.5],[2.55,10.8],[2.6,10.0],[2.65,10.5],[2.7,9.5],[2.75,10.2],[2.8,8.0],[2.85,9.0],[2.9,8.5],[2.95,9.2],[3.0,8.8],[3.05,10.5],[3.1,11.8],[3.15,11.2],[3.2,12.2],[3.25,13.0],[3.3,14.8],[3.35,14.0],[3.4,14.5],[3.45,13.8],[3.5,14.2],[3.55,13.5],[3.6,14.5],[3.65,14.0],[3.7,14.8],[3.75,14.0],[3.8,13.5],[3.85,14.0],[3.9,13.2],[3.95,13.5],[4.0,13.0],[4.1,12.5],[4.2,12.3],[4.3,12.8],[4.4,14.0],[4.5,14.3],[4.6,14.8],[4.7,14.5],[4.8,14.0],[4.9,13.5],[5.0,14.0],[5.1,15.0],[5.2,15.5],[5.3,16.0],[5.4,16.5],[5.5,16.2],[5.6,17.0],[5.7,17.8],[5.8,18.5],[5.9,19.0],[6.0,19.5],[6.1,19.8],[6.2,19.6],[6.3,20.0],[6.4,19.8],[6.5,19.9],[6.6,19.7],[6.7,20.2],[6.8,19.8],[6.9,19.2],[7.03,18.5],[7.12,18.3],[7.22,18.7],[7.32,19.0],[7.45,18.5],[7.6,17.8],[7.7,17.2],[7.8,16.5],[7.88,15.8],[7.95,13.5],[8.03,11.5],[8.11,10.1],[8.2,7.5],[8.27,5.3],[8.32,4.0],[8.38,4.0],[8.44,3.8],[8.49,3.6],[8.52,2.0],[8.56,0.4]];
const d1 = [[0,0],[0.8,0],[0.83,1.8],[0.87,0.3],[0.92,1.2],[0.97,0.2],[1.02,1.5],[1.07,0.3],[1.12,2.0],[1.17,0.5],[1.2,4.2],[1.24,2.5],[1.28,4.5],[1.32,3.0],[1.36,6.0],[1.4,4.0],[1.45,7.0],[1.5,5.0],[1.55,6.5],[1.6,5.0],[1.65,7.2],[1.7,5.5],[1.75,6.8],[1.8,4.8],[1.85,6.2],[1.9,5.5],[1.95,7.0],[2.0,6.2],[2.05,7.5],[2.1,8.0],[2.15,9.0],[2.2,9.8],[2.25,9.0],[2.3,10.0],[2.35,9.5],[2.4,10.8],[2.45,10.0],[2.5,11.5],[2.55,10.5],[2.6,11.8],[2.65,10.2],[2.7,10.8],[2.75,9.5],[2.8,10.2],[2.85,9.0],[2.9,9.8],[2.95,9.0],[3.0,9.8],[3.05,11.0],[3.1,12.2],[3.15,11.8],[3.2,12.5],[3.25,13.0],[3.3,14.0],[3.35,13.5],[3.4,14.0],[3.45,13.5],[3.5,14.2],[3.55,13.5],[3.6,14.0],[3.65,13.3],[3.7,14.2],[3.75,13.8],[3.8,13.5],[3.9,13.0],[4.0,12.5],[4.1,12.3],[4.2,12.5],[4.3,12.2],[4.4,13.0],[4.5,14.5],[4.6,14.2],[4.7,14.8],[4.8,14.2],[4.9,14.5],[5.0,14.0],[5.1,15.0],[5.2,15.5],[5.3,16.2],[5.4,16.8],[5.5,17.0],[5.6,17.5],[5.7,18.2],[5.8,18.8],[5.9,19.2],[6.0,19.5],[6.1,19.8],[6.2,19.6],[6.3,19.8],[6.4,20.0],[6.5,19.9],[6.6,20.3],[6.7,20.5],[6.8,20.2],[6.9,19.8],[7.0,19.6],[7.15,19.5],[7.35,19.4],[7.55,19.3],[7.78,19.2],[7.95,19.0],[8.11,18.6],[8.2,17.8],[8.27,16.8],[8.33,15.8],[8.42,13.5],[8.49,10.9],[8.56,8.5],[8.63,6.4],[8.67,5.5],[8.7,2.4],[8.73,3.5],[8.76,4.0],[8.84,3.8],[8.87,1.5],[8.9,0.2]];

// tick values
const aXTicks = [0,5,10,15,20,25], aYTicks = [0,2,4,6,8,10,12,14,16];
const bXTicks = [0,1,2,3,4,5,6,7,8,9,10], bYTicks = [0,5,10,15,20,25];
const cXTicks = [0,1,2,3,4,5,6,7,8,9,10], cYTicks = [0,5,10,15,20,25];
const dXTicks = [1,2,3,4,5,6,7,8,9,10], dYTicks = [0,5,10,15,20,25];
const captions = ["(a) Variation in tension-shear ratio","(b) Variation in W-beam length","(c) Variation in horizontal alignment of the bolt","(d) Variation in vertical alignment of the bolt"];

// ---------- DRAWING ----------
const svg = d3.select("#chart");
const SANS = "'Liberation Sans', Arial, sans-serif";

function panel(p){
  const g = svg.append("g");
  const x = d3.scaleLinear().domain(p.xd).range([p.x0, p.x1]);
  const y = d3.scaleLinear().domain(p.yd).range([p.y0, p.y1]);
  const ya = g.append("g").attr("transform", `translate(${p.x0},0)`)
    .call(d3.axisLeft(y).tickValues(p.yt).tickSize(-(p.x1 - p.x0)).tickSizeOuter(0).tickPadding(p.ypad).tickFormat(d3.format("d")));
  ya.select(".domain").attr("stroke", "#c6c6c6");
  ya.selectAll(".tick line").attr("stroke", "#d2d2d2").attr("stroke-width", 1.2);
  ya.selectAll(".tick text").attr("font-family", SANS).attr("font-size", p.tfs).attr("fill", "#222");
  const xa = g.append("g").attr("transform", `translate(0,${p.y0})`)
    .call(d3.axisBottom(x).tickValues(p.xt).tickSize(3).tickSizeOuter(0).tickPadding(p.xpad).tickFormat(d3.format("d")));
  xa.select(".domain").attr("stroke", "#b8b8b8").attr("stroke-width", 1.2);
  xa.selectAll(".tick line").attr("stroke", "#b8b8b8");
  xa.selectAll(".tick text").attr("font-family", SANS).attr("font-size", p.tfs).attr("fill", "#222");
  g.append("text").attr("transform", `translate(${p.ytx},${p.yty}) rotate(-90)`)
    .attr("text-anchor", "middle").attr("dy", "0.35em").attr("font-family", SANS)
    .attr("font-size", p.afs).attr("fill", "#222").text("Force [kN]");
  g.append("text").attr("x", p.xtx).attr("y", p.xty).attr("text-anchor", "middle").attr("dy", "0.35em")
    .attr("font-family", SANS).attr("font-size", p.afs).attr("fill", "#222").text("Displacement [mm]");
  const line = d3.line().x(d => x(d[0])).y(d => y(d[1]));
  p.order.forEach(i => {
    g.append("path").datum(p.series[i]).attr("d", line).attr("fill", "none")
      .attr("stroke", p.colors[i]).attr("stroke-width", p.sw).attr("stroke-linejoin", "round");
  });
  p.labels.forEach((lab, i) => {
    const ly = p.ly + i * p.ldy;
    g.append("line").attr("x1", p.lx).attr("x2", p.lx + p.ll).attr("y1", ly).attr("y2", ly)
      .attr("stroke", p.colors[i]).attr("stroke-width", 2.2);
    g.append("text").attr("x", p.tx).attr("y", ly).attr("dy", "0.36em").attr("xml:space", "preserve")
      .style("white-space", "pre").attr("font-family", SANS).attr("font-size", p.lfs).attr("fill", "#222").text(lab);
  });
}

panel({xd:[0,25], yd:[0,16], x0:43, x1:466, y0:229.3, y1:15.3, xt:aXTicks, yt:aYTicks, ypad:6, xpad:0, tfs:11.5, afs:12,
  ytx:16, yty:116, xtx:247, xty:250,
  series:[a0,a15,a30,a45,a60,a75,a90], labels:aLabels,
  colors:["#e8372c","#5b8ee6","#f0922e","#2b962e","#1f2e9e","#7a2a8a","#111111"],
  order:[6,5,4,3,2,1,0], sw:1.6, lx:424, ll:13, tx:443, ly:71.5, ldy:16.7, lfs:12});

panel({xd:[0,10], yd:[0,25], x0:515.7, x1:860, y0:230, y1:9, xt:bXTicks, yt:bYTicks, ypad:8, xpad:2, tfs:12.5, afs:12,
  ytx:488, yty:120, xtx:707, xty:254,
  series:[bRef,b380,b480,b590,b690], labels:bLabels,
  colors:["#111111","#5a9cf6","#22a022","#1a1aa6","#ff2a12"],
  order:[1,2,3,0,4], sw:2, lx:875, ll:13, tx:891, ly:96.7, ldy:18.6, lfs:11.5});

panel({xd:[0,10], yd:[0,25], x0:38.3, x1:340.7, y0:554, y1:349, xt:cXTicks, yt:cYTicks, ypad:5, xpad:2, tfs:12.5, afs:12,
  ytx:15, yty:463, xtx:205, xty:578,
  series:[cRef,c15,c115,c215], labels:cLabels,
  colors:["#111111","#1f9a22","#ff2a12","#4d8ff8"],
  order:[0,1,2,3], sw:2, lx:356, ll:14, tx:373, ly:437.7, ldy:18.5, lfs:11.5});

panel({xd:[0,10], yd:[0,25], x0:515.2, x1:823.2, y0:553.3, y1:347.3, xt:dXTicks, yt:dYTicks, ypad:5, xpad:1.5, tfs:12.5, afs:12,
  ytx:488, yty:453, xtx:683, xty:579,
  series:[d0,d14,d12,d34,d1], labels:dLabels,
  colors:["#6ea2de","#1e3ff2","#111111","#22a022","#ff8a1c"],
  order:[0,1,3,2,4], sw:2, lx:839, ll:14, tx:855, ly:426.7, ldy:19.75, lfs:11.5});

// captions
const capPos = [[67,302,343],[556,302,310],[5,617,468],[487,617,457]];
captions.forEach((t, i) => {
  svg.append("text").attr("x", capPos[i][0]).attr("y", capPos[i][1])
    .attr("textLength", capPos[i][2]).attr("lengthAdjust", "spacingAndGlyphs")
    .attr("font-family", "'Liberation Serif', 'DejaVu Serif', serif").attr("font-size", 22)
    .attr("fill", "#111").text(t);
});
</script>
</body></html>
